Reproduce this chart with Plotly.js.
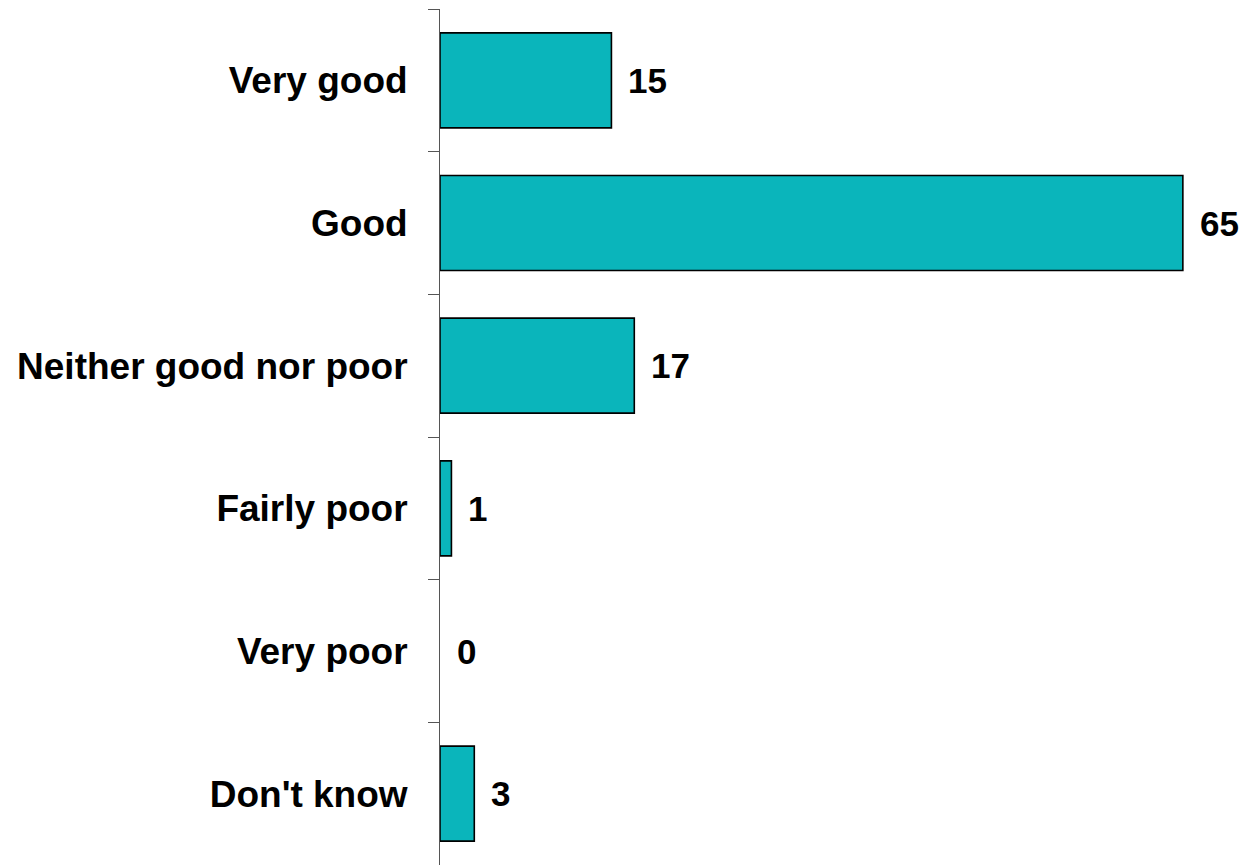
<!DOCTYPE html>
<html>
<head>
<meta charset="utf-8">
<script src="https://cdn.plot.ly/plotly-3.0.1.min.js"></script>
<style>html,body{margin:0;padding:0;background:#fff}#chart{width:1245px;height:865px}</style>
</head>
<body>
<div id="chart"></div>
<script>
const categories = ["Very good", "Good", "Neither good nor poor", "Fairly poor", "Very poor", "Don't know"];
const values = [15, 65, 17, 1, 0, 3];
const valueLabels = ["15", "65", "17", "1", "0", "3"];

const fontFamily = '"Liberation Sans", Arial, Helvetica, sans-serif';

const trace = {
  type: 'bar',
  orientation: 'h',
  x: values,
  y: categories,
  marker: {
    color: '#0AB5BB',
    line: { color: '#000000', width: values.map(v => v > 0 ? 1.6 : 0) }
  },
  hoverinfo: 'none'
};

const annotations = categories.map((c, i) => ({
  x: values[i], y: c, xref: 'x', yref: 'y',
  text: valueLabels[i], showarrow: false,
  xanchor: 'left', yanchor: 'middle', xshift: 15,
  font: { family: fontFamily, size: 35, color: '#000', weight: 'bold' }
}));

const layout = {
  width: 1245, height: 865,
  margin: { l: 440, r: 5, t: 9, b: 0, pad: 0 },
  paper_bgcolor: '#fff', plot_bgcolor: '#fff',
  showlegend: false,
  bargap: 0.334,
  xaxis: { range: [0, 70], visible: false, fixedrange: true },
  yaxis: {
    type: 'category', autorange: 'reversed',
    showline: true, linecolor: '#555', linewidth: 1,
    ticks: 'outside', tickson: 'boundaries', ticklen: 11, tickcolor: '#555', tickwidth: 1,
    ticklabelstandoff: 24,
    showgrid: false, zeroline: false,
    tickfont: { family: fontFamily, size: 37, color: '#000', weight: 'bold' }
  },
  annotations: annotations
};

Plotly.newPlot('chart', [trace], layout, { displayModeBar: false, staticPlot: true });
</script>
</body>
</html>
